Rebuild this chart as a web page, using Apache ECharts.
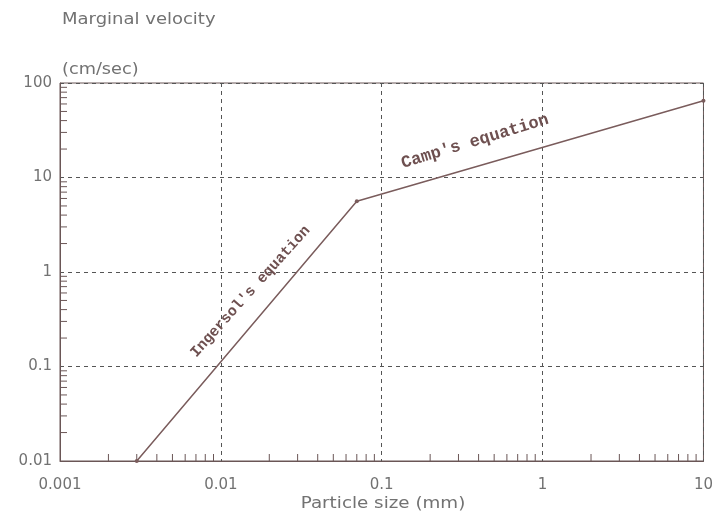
<!DOCTYPE html>
<html>
<head>
<meta charset="utf-8">
<script src="https://cdn.jsdelivr.net/npm/echarts@6/dist/echarts.min.js"></script>
<style>
  html, body { margin: 0; padding: 0; background: #fff; }
  #chart { width: 716px; height: 519px; }
</style>
</head>
<body>
<div id="chart"></div>
<script>
// particle size (mm) vs marginal velocity (cm/sec)
const particleSize = [0.003, 0.07, 10];
const velocity = [0.01, 5.6, 65];

// minor tick values for the log axes
const xMinor = [];
const yMinor = [];
[0.001, 0.01, 0.1, 1].forEach(function (d) {
  for (let k = 2; k <= 9; k++) xMinor.push(+(d * k).toPrecision(3));
});
[0.01, 0.1, 1, 10].forEach(function (d) {
  for (let k = 2; k <= 9; k++) yMinor.push(+(d * k).toPrecision(3));
});

const annotations = [
  { text: "Camp's equation", at: [0.38, 24], angle: 17, size: 17 },
  { text: "Ingersol's equation", at: [0.0153, 0.62], angle: 48, size: 15 }
];

const lineColor = "#7a5c5c";
const axisColor = "#6a5656";
const labelColor = "#727272";
const fontFam = "DejaVu Sans";

const chart = echarts.init(document.getElementById("chart"));

function fmt(v) {
  return String(parseFloat((+v).toPrecision(6)));
}

const tickData = xMinor.map(function (v) { return [v, 0.01, 0]; })
  .concat(yMinor.map(function (v) { return [0.001, v, 1]; }));

chart.setOption({
  animation: false,
  backgroundColor: "#fff",
  grid: {
    left: 60,
    right: 9,
    top: 83,
    bottom: 58,
    show: true,
    borderColor: axisColor,
    borderWidth: 1
  },
  xAxis: {
    type: "log",
    logBase: 10,
    min: 0.001,
    max: 10,
    axisLine: { lineStyle: { color: axisColor, width: 1 } },
    axisTick: { show: false },
    axisLabel: {
      color: labelColor,
      fontSize: 15,
      fontFamily: fontFam,
      margin: 17,
      showMinLabel: true,
      showMaxLabel: true,
      formatter: fmt
    },
    splitLine: { show: true, lineStyle: { color: "#555", type: [4, 4], width: 1 } }
  },
  yAxis: {
    type: "log",
    logBase: 10,
    min: 0.01,
    max: 100,
    axisLine: { lineStyle: { color: axisColor, width: 1 } },
    axisTick: { show: false },
    axisLabel: {
      color: labelColor,
      fontSize: 15,
      fontFamily: fontFam,
      margin: 8,
      showMinLabel: true,
      showMaxLabel: true,
      formatter: fmt
    },
    splitLine: { show: true, lineStyle: { color: "#555", type: [4, 4], width: 1 } }
  },
  series: [
    {
      type: "custom",
      silent: true,
      clip: false,
      data: tickData,
      renderItem: function (params, api) {
        const p = api.coord([api.value(0), api.value(1)]);
        const horiz = api.value(2) === 1;
        return {
          type: "line",
          shape: horiz
            ? { x1: p[0], y1: p[1], x2: p[0] + 7, y2: p[1] }
            : { x1: p[0], y1: p[1], x2: p[0], y2: p[1] - 7 },
          style: { stroke: axisColor, lineWidth: 1 }
        };
      },
      z: 3
    },
    {
      type: "line",
      data: particleSize.map(function (x, i) { return [x, velocity[i]]; }),
      symbol: "circle",
      symbolSize: 4,
      showSymbol: true,
      itemStyle: { color: lineColor },
      lineStyle: { color: lineColor, width: 1.5 },
      z: 4
    }
  ]
});

const graphics = [
  {
    type: "text",
    x: 62,
    y: 13,
    scaleX: 1.2,
    style: { text: "Marginal velocity", fill: labelColor, font: "15px " + fontFam }
  },
  {
    type: "text",
    x: 62,
    y: 63,
    scaleX: 1.18,
    style: { text: "(cm/sec)", fill: labelColor, font: "15px " + fontFam }
  },
  {
    type: "text",
    x: 383,
    y: 497,
    scaleX: 1.22,
    style: {
      text: "Particle size (mm)",
      fill: labelColor,
      font: "15px " + fontFam,
      align: "center"
    }
  }
];
annotations.forEach(function (a) {
  const p = chart.convertToPixel({ gridIndex: 0 }, a.at);
  graphics.push({
    type: "text",
    x: p[0],
    y: p[1],
    rotation: a.angle * Math.PI / 180,
    style: {
      text: a.text,
      fill: "#6e5050",
      font: "bold " + a.size + "px 'Liberation Mono'",
      align: "center",
      verticalAlign: "middle"
    }
  });
});
chart.setOption({ graphic: graphics });
</script>
</body>
</html>
